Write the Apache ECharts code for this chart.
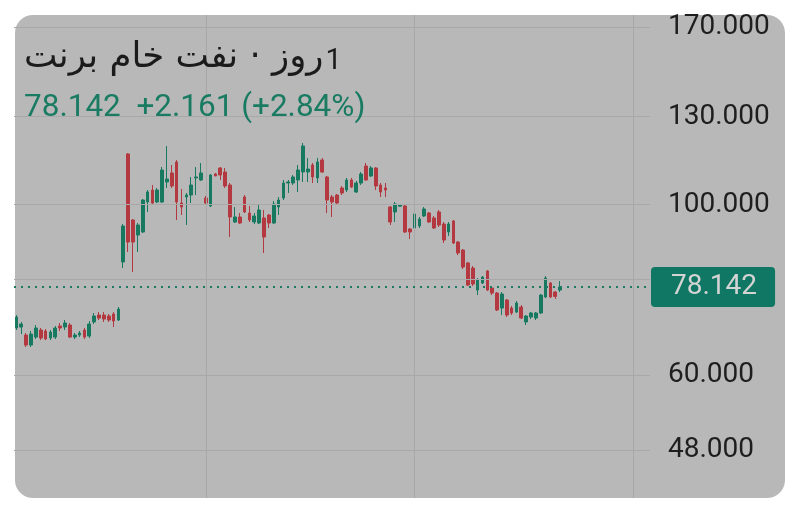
<!DOCTYPE html>
<html>
<head>
<meta charset="utf-8">
<script src="https://cdn.jsdelivr.net/npm/echarts@6/dist/echarts.min.js"></script>
<style>
  html, body { margin: 0; background: #fff; }
  #card { position: absolute; left: 15px; top: 15px; width: 770px; height: 483px; border-radius: 18px; background: #b8b8b8; }
  #main { position: absolute; left: 0; top: 0; width: 800px; height: 511px; }
</style>
</head>
<body>
<div id="card"></div>
<div id="main"></div>
<script>
// عنوان و قیمت لحظه ای
const titleNum = '1';
const titleName = 'روز · نفت خام برنت';
const quoteText = '78.142  +2.161 (+2.84%)';
const lastPrice = 78.142;

// خطوط افقی و برچسب های محور قیمت
const gridValues = [170, 130, 100, 80, 60, 48];
const yTicks = [170, 130, 100, 60, 48];
// خطوط عمودی (اندیس کندل)
const vLineIdx = [39, 82, 127];

// قیمت ها - روزانه
const opens = [
  69.13, 69.33, 67.69, 65.70, 67.29, 68.71, 68.51, 67.09, 67.29, 69.54,
  69.33, 69.75, 67.29, 67.69, 68.71, 67.49, 70.38, 71.86, 71.86, 71.65,
  72.08, 70.80, 84.21, 116.30, 95.47, 91.28, 92.11, 100.75, 104.43, 100.75,
  100.75, 106.96, 109.88, 113.55, 100.45, 102.27, 102.88, 108.25, 107.60, 101.96,
  99.55, 109.55, 111.53, 110.20, 106.00, 94.90, 96.34, 102.27, 97.49, 94.90,
  94.62, 96.05, 96.91, 94.62, 99.26, 101.96, 106.64, 106.64, 107.60, 110.20,
  110.20, 112.53, 108.25, 114.23, 108.57, 102.27, 102.88, 105.06, 104.43, 107.60,
  103.81, 106.64, 112.20, 108.90, 111.53, 106.00, 105.06, 99.26, 97.79, 99.50,
  99.55, 92.94, 93.22, 93.77, 96.62, 97.49, 96.05, 97.79, 94.33, 92.11,
  95.19, 89.39, 87.28, 83.96, 82.70, 77.44, 79.08, 81.97, 77.91, 76.75,
  73.39, 75.16, 73.39, 72.51, 73.61, 70.38, 71.44, 71.22, 72.30, 75.84,
  79.08, 76.98, 77.44
];
const closes = [
  71.44, 69.96, 65.70, 67.89, 69.13, 67.09, 66.89, 68.30, 69.13, 69.13,
  70.17, 67.29, 67.69, 68.10, 67.29, 69.96, 71.65, 71.22, 71.01, 70.80,
  70.59, 73.17, 93.77, 89.39, 89.39, 94.05, 101.35, 103.81, 100.45, 104.43,
  110.86, 107.92, 105.69, 100.75, 99.26, 102.88, 106.00, 108.57, 109.88, 100.45,
  109.22, 108.90, 109.22, 105.69, 96.34, 96.34, 94.62, 97.79, 95.47, 96.62,
  98.37, 90.74, 94.62, 100.15, 101.35, 106.64, 106.96, 108.57, 110.86, 119.10,
  111.19, 108.57, 113.55, 110.20, 101.35, 100.75, 100.45, 103.50, 107.60, 105.37,
  106.64, 109.55, 107.60, 111.53, 105.69, 103.81, 104.43, 94.90, 100.15, 99.85,
  92.11, 92.11, 97.20, 95.76, 98.67, 94.90, 93.22, 94.05, 89.93, 94.33,
  89.13, 86.50, 82.95, 78.61, 78.85, 79.79, 80.51, 77.44, 76.75, 72.95,
  76.52, 71.86, 72.30, 74.49, 71.22, 71.65, 72.30, 72.30, 76.29, 80.27,
  75.84, 75.98, 78.142
];
const lows = [
  68.71, 67.89, 65.31, 65.31, 66.89, 66.69, 66.69, 66.69, 66.89, 68.51,
  68.71, 67.09, 66.89, 67.29, 66.89, 67.09, 69.96, 70.80, 70.38, 70.38,
  69.33, 70.59, 82.70, 86.76, 81.72, 86.76, 91.83, 97.79, 99.85, 100.45,
  100.45, 105.06, 105.06, 95.47, 96.91, 94.05, 100.45, 102.88, 107.28, 100.15,
  99.26, 108.90, 107.60, 105.06, 90.74, 94.62, 94.33, 97.49, 94.90, 94.33,
  94.33, 86.50, 93.22, 94.33, 96.91, 101.35, 103.50, 106.00, 103.81, 106.96,
  106.96, 106.64, 106.64, 109.88, 97.49, 96.34, 99.85, 102.88, 103.81, 105.06,
  103.50, 106.00, 107.40, 108.57, 104.43, 102.27, 102.27, 94.05, 94.90, 99.40,
  91.83, 90.20, 92.66, 93.22, 96.34, 94.62, 92.94, 93.49, 89.13, 91.01,
  88.86, 85.98, 82.46, 78.38, 78.38, 76.29, 78.85, 77.21, 76.29, 72.73,
  71.86, 71.44, 71.86, 72.30, 71.01, 69.75, 71.01, 70.80, 72.08, 75.61,
  75.61, 75.39, 76.98
];
const highs = [
  71.86, 70.38, 68.10, 68.51, 69.75, 69.13, 68.92, 68.71, 69.54, 70.17,
  70.80, 70.17, 68.10, 68.51, 69.13, 70.59, 72.30, 72.51, 72.51, 72.08,
  72.51, 73.61, 94.33, 116.64, 95.76, 94.62, 101.66, 104.43, 106.00, 105.06,
  111.86, 119.10, 112.53, 114.23, 104.74, 103.50, 108.57, 111.86, 113.21, 102.57,
  109.55, 109.88, 111.86, 111.53, 106.64, 99.26, 97.49, 102.88, 99.55, 97.49,
  99.85, 98.37, 97.20, 101.05, 102.27, 107.60, 107.60, 109.22, 112.53, 120.18,
  114.92, 113.21, 114.92, 114.92, 108.90, 102.88, 103.19, 105.69, 108.25, 108.25,
  107.28, 110.20, 113.21, 112.20, 111.86, 106.64, 106.64, 99.55, 100.75, 100.15,
  99.85, 93.22, 97.79, 96.34, 99.26, 97.79, 96.62, 98.37, 94.90, 94.90,
  95.47, 89.66, 87.54, 84.21, 83.20, 80.27, 80.75, 82.21, 78.14, 76.98,
  76.98, 75.39, 73.83, 74.94, 74.05, 71.86, 72.51, 72.51, 76.52, 80.75,
  79.32, 77.21, 79.55
];

// دسته ها: ۱۱۳ کندل + فضای خالی سمت راست
const slotCount = 131;
const categories = [];
for (let i = 0; i < slotCount; i++) categories.push(String(i + 1));

const candleData = opens.map((o, i) => [o, closes[i], lows[i], highs[i]]);

const upColor = '#17795f';
const downColor = '#b3383f';

const chart = echarts.init(document.getElementById('main'), null, { renderer: 'canvas' });

const option = {
  animation: false,
  backgroundColor: 'transparent',
  title: {
    // عدد سمت راست، نام سمت چپ (راست به چپ)
    text: '{ar|' + titleName + '}{num|' + titleNum + '}',
    subtext: quoteText,
    left: 19,
    top: 27,
    itemGap: 25,
    textStyle: {
      fontWeight: 'normal',
      color: '#1b1b1b',
      rich: {
        ar: { fontSize: 35.5, lineHeight: 44, verticalAlign: 'bottom', color: '#1b1b1b', fontFamily: '"DejaVu Sans"' },
        num: { fontSize: 29, lineHeight: 44, verticalAlign: 'bottom', color: '#1b1b1b', fontFamily: 'Roboto', padding: [0, 0, 0, 2] }
      }
    },
    subtextStyle: { fontSize: 31.5, lineHeight: 31, color: '#1a7b63', fontFamily: 'Roboto' }
  },
  grid: { left: 14, right: 150, top: 15, bottom: 13, outerBoundsMode: 'none' },
  xAxis: {
    type: 'category',
    data: categories,
    boundaryGap: true,
    axisLine: { show: false },
    axisTick: { show: false },
    axisLabel: { show: false },
    splitLine: { show: false }
  },
  yAxis: {
    type: 'log',
    logBase: 10,
    min: 41.59,
    max: 176.2,
    axisLine: { show: false },
    axisTick: { show: false },
    axisLabel: { show: false },
    splitLine: { show: false }
  },
  series: [
    {
      // خطوط شبکه و برچسب قیمت ها
      name: 'grid',
      type: 'line',
      data: [],
      z: 1,
      silent: true,
      markLine: {
        silent: true,
        animation: false,
        symbol: ['none', 'none'],
        lineStyle: { color: '#a8a8a8', width: 1, type: 'solid' },
        label: {
          show: true,
          position: 'end',
          distance: 18,
          color: '#1e1e1e',
          fontSize: 28,
          fontFamily: 'Roboto',
          formatter: p => p.value.toFixed(3)
        },
        data: gridValues.map(v => ({ yAxis: v, label: { show: yTicks.indexOf(v) >= 0 } }))
          .concat(vLineIdx.map(i => ({ xAxis: categories[i], label: { show: false } })))
      }
    },
    {
      name: 'Brent',
      type: 'candlestick',
      z: 3,
      data: candleData,
      barWidth: 3.2,
      itemStyle: {
        color: upColor,
        color0: downColor,
        borderColor: upColor,
        borderColor0: downColor,
        borderWidth: 1
      },
      markLine: {
        silent: true,
        animation: false,
        symbol: ['none', 'none'],
        lineStyle: { color: '#1a7a62', width: 2, type: [2, 5] },
        label: {
          show: true,
          position: 'end',
          distance: 1,
          formatter: lastPrice.toFixed(3),
          backgroundColor: '#0f7763',
          color: '#d4d4d4',
          padding: [6, 18, 6, 20],
          borderRadius: 4,
          fontSize: 28,
          fontFamily: 'Roboto'
        },
        data: [{ yAxis: lastPrice }]
      }
    }
  ]
};

chart.setOption(option);
</script>
</body>
</html>
